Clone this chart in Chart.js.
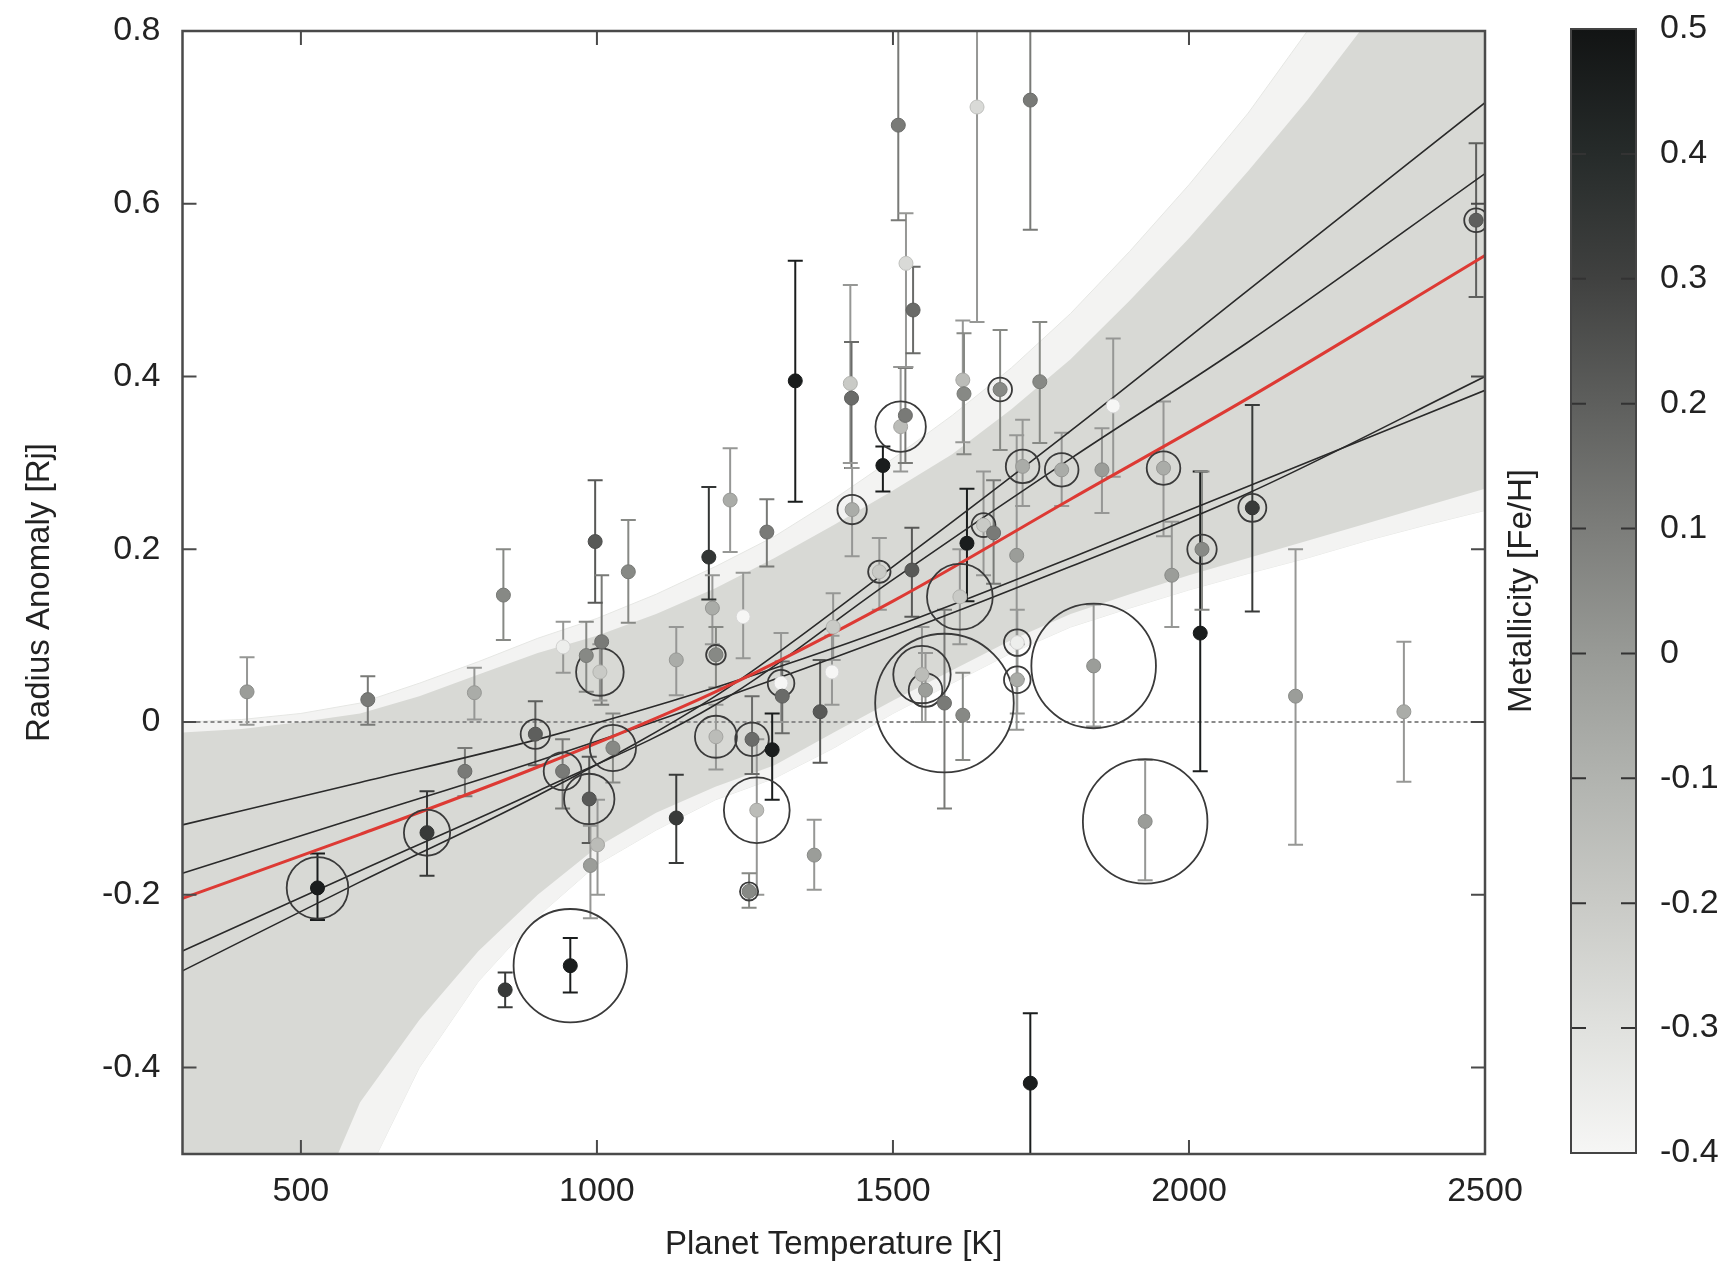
<!DOCTYPE html>
<html><head><meta charset="utf-8">
<script src="https://cdn.jsdelivr.net/npm/chart.js@4.4.1/dist/chart.umd.min.js"></script>
<style>
html,body{margin:0;padding:0;background:#fff;}
#wrap{position:relative;width:1724px;height:1265px;background:#fff;}
#main{position:absolute;left:0;top:0;}
#cbar{position:absolute;left:1480px;top:0;}
</style></head><body>
<div id="wrap"><canvas id="main" width="1724" height="1265"></canvas><canvas id="cbar" width="244" height="1265"></canvas></div>
<script>
// ---------- data ----------
const temps = [409,528,613,713,777,793,842,845,896,942,943,955,982,987,989,997,1001,1005,1008,1027,1053,1134,1134,1189,1195,1201,1201,1225,1247,1257,1262,1270,1287,1296,1311,1313,1335,1367,1377,1397,1399,1428,1430,1431,1477,1483,1509,1513,1521,1522,1532,1534,1549,1555,1587,1613,1618,1618,1620,1625,1642,1653,1670,1681,1709,1710,1710,1719,1732,1732,1748,1785,1839,1853,1872,1926,1957,1971,2019,2022,2107,2180,2363,2485];
const anomalies = [0.035,-0.192,0.026,-0.128,-0.057,0.034,0.147,-0.31,-0.014,-0.057,0.087,-0.282,0.077,-0.089,-0.166,0.209,-0.142,0.058,0.093,-0.03,0.174,-0.111,0.072,0.191,0.132,0.078,-0.017,0.257,0.122,-0.196,-0.02,-0.102,0.22,-0.032,0.045,0.03,0.395,-0.154,0.012,0.058,0.11,0.392,0.375,0.246,0.174,0.297,0.691,0.342,0.355,0.531,0.176,0.477,0.055,0.037,0.022,0.145,0.396,0.008,0.38,0.207,0.712,0.228,0.219,0.385,0.193,0.092,0.049,0.296,0.72,-0.418,0.394,0.292,0.065,0.292,0.366,-0.115,0.294,0.17,0.103,0.2,0.248,0.03,0.012,0.581];
const errLow = [-0.003,-0.229,-0.003,-0.178,-0.086,0.003,0.095,-0.33,-0.05,-0.1,0.057,-0.313,0.035,-0.14,-0.227,0.138,-0.2,0.025,0.02,-0.07,0.115,-0.163,0.031,0.142,0.09,0.04,-0.055,0.197,0.074,-0.215,-0.06,-0.2,0.18,-0.09,0.0,-0.013,0.255,-0.194,-0.047,0.02,0.072,0.3,0.294,0.192,0.13,0.267,0.581,0.29,0.3,0.411,0.122,0.427,0.0,0.0,-0.1,0.09,0.324,-0.044,0.31,0.14,0.463,0.17,0.16,0.315,-0.009,0.05,0.01,0.25,0.57,-0.55,0.323,0.25,-0.005,0.242,0.284,-0.183,0.215,0.11,-0.057,0.13,0.128,-0.142,-0.069,0.492];
const errHigh = [0.075,-0.152,0.053,-0.08,-0.03,0.063,0.2,-0.29,0.024,-0.02,0.116,-0.25,0.116,-0.04,-0.12,0.28,-0.09,0.09,0.17,0.01,0.234,-0.061,0.11,0.272,0.17,0.11,0.02,0.317,0.173,-0.175,0.03,-0.02,0.258,0.01,0.103,0.07,0.534,-0.113,0.072,0.1,0.149,0.506,0.44,0.294,0.213,0.319,0.85,0.411,0.41,0.589,0.225,0.527,0.11,0.08,0.13,0.2,0.465,0.057,0.45,0.27,0.85,0.29,0.28,0.454,0.332,0.13,0.09,0.35,0.85,-0.337,0.463,0.335,0.136,0.34,0.444,-0.044,0.371,0.232,0.29,0.29,0.367,0.2,0.093,0.67];
const metallicity = [-0.01,0.46,0.11,0.33,0.11,-0.07,0.06,0.33,0.2,0.11,-0.36,0.46,0.06,0.22,-0.01,0.22,-0.14,-0.2,0.11,0.06,0.06,0.33,-0.07,0.35,-0.07,0.06,-0.14,-0.07,-0.4,0.06,0.16,-0.14,0.11,0.46,-0.4,0.16,0.46,-0.01,0.22,-0.4,-0.2,-0.2,0.16,-0.07,-0.2,0.46,0.11,-0.14,0.11,-0.27,0.22,0.16,-0.14,-0.01,0.11,-0.2,-0.14,0.06,0.06,0.46,-0.27,-0.2,0.11,0.06,-0.01,-0.36,-0.07,-0.07,0.11,0.46,0.06,-0.07,-0.01,-0.01,-0.4,-0.01,-0.07,-0.01,0.46,0.06,0.33,-0.01,-0.07,0.2];
const ringValue = [0,0.44,0,0.33,0,0,0,0,0.21,0.27,0,0.81,0,0.36,0,0,0,0.34,0,0.33,0,0,0,0,0,0.14,0.30,0,0,0.13,0.24,0.47,0,0,0.19,0,0,0,0,0,0,0,0,0.21,0.16,0,0,0.36,0,0,0,0,0.41,0.24,0.99,0.47,0,0,0,0,0,0.17,0,0.17,0,0.19,0.19,0.24,0,0,0,0.24,0.89,0,0,0.89,0.24,0,0,0.21,0.2,0,0,0.17];

// posterior band (dense core and faint outer streaks)
const bandTemps = [300,400,500,600,700,800,900,1000,1100,1200,1300,1400,1500,1600,1700,1800,1900,2000,2100,2200,2300,2400,2500];
const bandUpper = [-0.012,-0.008,0.0,0.01,0.03,0.055,0.08,0.1,0.125,0.155,0.19,0.228,0.268,0.31,0.362,0.42,0.488,0.56,0.638,0.72,0.81,0.91,1.02];
const bandLower = [-0.95,-0.78,-0.6,-0.44,-0.345,-0.265,-0.2,-0.145,-0.105,-0.075,-0.05,-0.012,0.025,0.06,0.095,0.125,0.148,0.17,0.19,0.21,0.23,0.25,0.27];
const outerUpper = [0.0,0.003,0.01,0.022,0.045,0.07,0.097,0.12,0.148,0.18,0.215,0.258,0.305,0.355,0.41,0.473,0.545,0.622,0.705,0.8,0.9,1.0,1.1];
const outerLower = [-1.05,-0.9,-0.72,-0.54,-0.4,-0.3,-0.225,-0.165,-0.125,-0.09,-0.065,-0.03,0.01,0.045,0.08,0.11,0.132,0.153,0.172,0.19,0.21,0.228,0.245];

// fitted relations
const fitTemps = [300,600,900,1200,1500,1800,2100,2500];
const fitBest = [-0.204,-0.13,-0.052,0.035,0.14,0.258,0.375,0.54];
const fitA = [-0.119,-0.07,-0.02,0.04,0.11,0.19,0.273,0.384];
const fitB = [-0.175,-0.11,-0.045,0.025,0.10,0.18,0.265,0.40];
const fitC = [-0.265,-0.172,-0.08,0.02,0.165,0.305,0.44,0.635];
const fitD = [-0.288,-0.185,-0.085,0.03,0.18,0.337,0.50,0.717];

// axes
const xTicks = [500,1000,1500,2000,2500];
const yTicks = [-0.4,-0.2,0,0.2,0.4,0.6,0.8];
const metTicks = [-0.4,-0.3,-0.2,-0.1,0,0.1,0.2,0.3,0.4,0.5];
const metPalette = ['#f6f6f5','#e0e1de','#c9cac6','#b1b3af','#989a96','#7c7d7a','#5e5f5d','#404140','#262b2a','#121414'];

// ---------- helpers ----------
const FONT = 'Liberation Sans, Arial, Helvetica, sans-serif';
const TXT = '#222';
function hexRgb(h){return [parseInt(h.slice(1,3),16),parseInt(h.slice(3,5),16),parseInt(h.slice(5,7),16)];}
function metRgb(v){
  const c = Math.min(0.5, Math.max(-0.4, v));
  const t = (c - metTicks[0]) / 0.1;
  const i = Math.min(metPalette.length - 2, Math.max(0, Math.floor(t)));
  const f = t - i;
  const a = hexRgb(metPalette[i]), b = hexRgb(metPalette[i+1]);
  return a.map((x,k)=>Math.round(x + (b[k]-x)*f));
}
function metColor(v){const c=metRgb(v);return `rgb(${c[0]},${c[1]},${c[2]})`;}
function metEdge(v){const c=metRgb(v).map(x=>Math.round(x*0.88));return `rgb(${c[0]},${c[1]},${c[2]})`;}
function errColor(i){
  const c = metRgb(metallicity[i]);
  const lum = (c[0]+c[1]+c[2])/3;
  if (lum > 150) return 'rgb(150,151,149)';
  return `rgb(${c[0]},${c[1]},${c[2]})`;
}
const fmt = v => String(Math.round(v*10)/10);

// ---------- datasets ----------
const pts = temps.map((t,i)=>({x:t,y:anomalies[i]}));
const ringIdx = temps.map((t,i)=>i).filter(i=>ringValue[i]>0);
const rings = ringIdx.map(i=>({x:temps[i],y:anomalies[i]}));
const errData = [];
temps.forEach((t,i)=>{errData.push({x:t,y:errLow[i]},{x:t,y:errHigh[i]},{x:t,y:null});});
const series = (xs, ys) => xs.map((x,i)=>({x, y:ys[i]}));
const RING_SCALE = 70;

const lineDs = (data,color,width,order) => ({data, showLine:true, borderColor:color, borderWidth:width, pointRadius:0, fill:false, cubicInterpolationMode:'monotone', order});

const datasets = [
  {data:pts, showLine:false, pointRadius:7, pointBackgroundColor:metallicity.map(metColor), pointBorderColor:metallicity.map(metEdge), pointBorderWidth:1, order:0},
  {data:rings, showLine:false, pointRadius:ringIdx.map(i=>ringValue[i]*RING_SCALE), pointBackgroundColor:'rgba(0,0,0,0)', pointBorderColor:'#3a3a3a', pointBorderWidth:1.8, order:1},
  lineDs(series(fitTemps,fitBest),'#dd3a34',3,2),
  lineDs(series(fitTemps,fitA),'#2a2a2a',1.6,3),
  lineDs(series(fitTemps,fitB),'#2a2a2a',1.6,3),
  lineDs(series(fitTemps,fitC),'#2a2a2a',1.6,3),
  lineDs(series(fitTemps,fitD),'#2a2a2a',1.6,3),
  {data:errData, showLine:true, spanGaps:false, borderWidth:2, borderColor:'#888',
   segment:{borderColor:c=>errColor(Math.floor(c.p0DataIndex/3))},
   pointStyle:'line', pointRadius:c=>(c.raw && c.raw.y!==null)?7.5:0,
   pointBorderColor:c=>errColor(Math.floor(c.dataIndex/3)), pointBorderWidth:2, fill:false, order:4},
  {data:[{x:300,y:0},{x:2500,y:0}], showLine:true, borderColor:'#8a8a8a', borderWidth:2, borderDash:[4,3], pointRadius:0, fill:false, order:5},
  {data:series(bandTemps,bandUpper), showLine:true, borderColor:'rgba(0,0,0,0)', borderWidth:0, pointRadius:0, backgroundColor:'#d8d9d5', fill:'+1', order:6},
  {data:series(bandTemps,bandLower), showLine:true, borderColor:'rgba(0,0,0,0)', borderWidth:0, pointRadius:0, fill:false, order:6},
  {data:series(bandTemps,outerUpper), showLine:true, borderColor:'#e6e7e4', borderWidth:1, pointRadius:0, backgroundColor:'#f3f3f2', fill:'+1', order:7},
  {data:series(bandTemps,outerLower), showLine:true, borderColor:'#e6e7e4', borderWidth:1, pointRadius:0, fill:false, order:7}
];

const framePlugin = {
  id:'frame',
  afterDatasetsDraw(chart){
    const {ctx, chartArea:a, scales:{x,y}} = chart;
    ctx.save();
    ctx.strokeStyle = '#4a4a4a';
    ctx.lineWidth = 2;
    ctx.beginPath();
    xTicks.forEach(v=>{const p=x.getPixelForValue(v);ctx.moveTo(p,a.bottom);ctx.lineTo(p,a.bottom-14);ctx.moveTo(p,a.top);ctx.lineTo(p,a.top+14);});
    yTicks.forEach(v=>{const p=y.getPixelForValue(v);ctx.moveTo(a.left,p);ctx.lineTo(a.left+14,p);ctx.moveTo(a.right,p);ctx.lineTo(a.right-14,p);});
    ctx.stroke();
    ctx.lineWidth = 2.5;
    ctx.strokeRect(a.left, a.top, a.right-a.left, a.bottom-a.top);
    ctx.restore();
  }
};

new Chart(document.getElementById('main'), {
  type:'scatter',
  data:{datasets},
  options:{
    responsive:false, animation:false, events:[],
    layout:{autoPadding:false, padding:{top:31,right:239,bottom:0,left:0}},
    plugins:{legend:{display:false}, tooltip:{enabled:false}},
    scales:{
      x:{type:'linear', min:300, max:2500,
         afterBuildTicks:s=>{s.ticks = xTicks.map(v=>({value:v}));},
         afterFit:s=>{s.height = 111; s.paddingLeft = 0; s.paddingRight = 0;},
         grid:{display:false, drawTicks:false}, border:{display:false},
         ticks:{font:{family:FONT,size:34}, color:TXT, padding:17, maxRotation:0, callback:v=>String(v)},
         title:{display:true, text:'Planet Temperature [K]', font:{family:FONT,size:33}, color:TXT, padding:{top:0,bottom:0}}},
      y:{type:'linear', min:-0.5, max:0.8,
         afterBuildTicks:s=>{s.ticks = yTicks.map(v=>({value:v}));},
         afterFit:s=>{s.width = 182.5; s.paddingTop = 0; s.paddingBottom = 0;},
         grid:{display:false, drawTicks:false}, border:{display:false},
         ticks:{font:{family:FONT,size:34}, color:TXT, padding:22, callback:v=>fmt(v)},
         title:{display:true, text:'Radius Anomaly [Rj]', font:{family:FONT,size:33}, color:TXT, padding:{top:20,bottom:0}}}
    }
  },
  plugins:[framePlugin]
});

// ---------- colour bar ----------
const cbarPlugin = {
  id:'cbarFrame',
  afterDatasetsDraw(chart){
    const {ctx, chartArea:a, scales:{y}} = chart;
    ctx.save();
    ctx.strokeStyle = '#333';
    ctx.lineWidth = 2;
    ctx.beginPath();
    metTicks.forEach(v=>{const p=y.getPixelForValue(v);ctx.moveTo(a.left,p);ctx.lineTo(a.left+15,p);ctx.moveTo(a.right-15,p);ctx.lineTo(a.right,p);});
    ctx.stroke();
    ctx.strokeStyle = '#444';
    ctx.strokeRect(a.left, a.top, a.right-a.left, a.bottom-a.top);
    ctx.restore();
  }
};

new Chart(document.getElementById('cbar'), {
  type:'bar',
  data:{labels:['Fe/H'], datasets:[{
    data:[[metTicks[0], metTicks[metTicks.length-1]]],
    backgroundColor:c=>{
      const ch = c.chart; const ys = ch.scales.y;
      if (!ch.chartArea || !ys) return metPalette[4];
      const g = ch.ctx.createLinearGradient(0, ys.getPixelForValue(metTicks[0]), 0, ys.getPixelForValue(metTicks[metTicks.length-1]));
      metPalette.forEach((col,i)=>g.addColorStop(i/(metPalette.length-1), col));
      return g;
    },
    borderWidth:0, barPercentage:1, categoryPercentage:1
  }]},
  options:{
    responsive:false, animation:false, events:[],
    layout:{autoPadding:false, padding:{top:29,bottom:112,left:0,right:0}},
    plugins:{legend:{display:false}, tooltip:{enabled:false}},
    scales:{
      x:{display:false},
      y:{position:'right', min:-0.4, max:0.5,
         afterBuildTicks:s=>{s.ticks = metTicks.map(v=>({value:v}));},
         afterFit:s=>{s.width = 88; s.paddingTop = 0; s.paddingBottom = 0;},
         grid:{display:false, drawTicks:false}, border:{display:false},
         ticks:{font:{family:FONT,size:34}, color:TXT, padding:24, callback:v=>fmt(v)}},
      yTitle:{position:'left', type:'linear', min:-0.4, max:0.5,
         afterFit:s=>{s.width = 91; s.paddingTop = 0; s.paddingBottom = 0;},
         grid:{display:false, drawTicks:false}, border:{display:false},
         ticks:{display:false},
         title:{display:true, text:'Metallicity [Fe/H]', font:{family:FONT,size:33}, color:TXT, padding:{top:22,bottom:0}}}
    }
  },
  plugins:[cbarPlugin]
});
</script>
</body></html>
